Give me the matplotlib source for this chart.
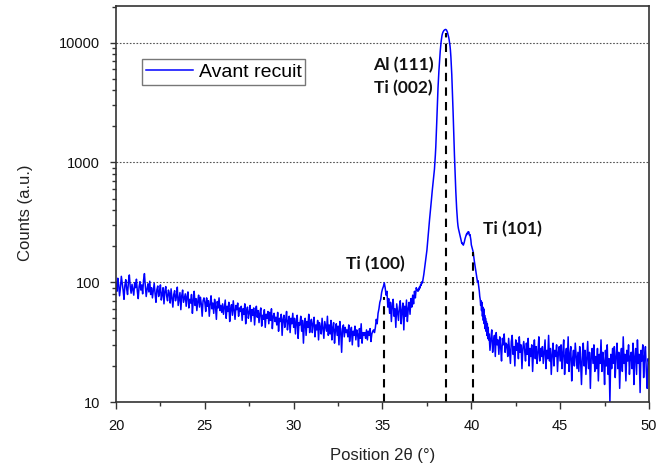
import matplotlib
matplotlib.use("Agg")
import matplotlib.pyplot as plt
import numpy as np
from matplotlib.ticker import LogLocator, FixedLocator, NullFormatter


# counts, one row per degree starting at row_start;
# background rows hold 20 readings (0.05 deg), the peak rows 40 (0.025 deg)
row_start = list(range(20, 51))

counts_rows = [
    [100, 84, 108, 95, 77, 90, 112, 98, 86, 72, 94, 105, 88, 79, 101, 115, 92, 81, 96, 87],   # 20
    [78, 99, 90, 106, 84, 73, 92, 101, 86, 95, 80, 104, 118, 93, 76, 88, 97, 83, 102, 79],    # 21
    [90, 74, 85, 98, 80, 68, 87, 93, 76, 83, 95, 71, 79, 90, 66, 84, 92, 77, 70, 86],         # 22
    [81, 67, 88, 74, 62, 79, 85, 70, 76, 91, 64, 73, 82, 59, 77, 86, 68, 74, 80, 63],         # 23
    [76, 83, 61, 72, 67, 79, 55, 71, 84, 64, 73, 58, 69, 78, 62, 75, 66, 52, 70, 74],         # 24
    [68, 57, 74, 63, 70, 52, 66, 77, 60, 67, 55, 72, 63, 49, 69, 61, 74, 58, 64, 56],         # 25
    [66, 54, 62, 71, 50, 63, 57, 68, 47, 60, 65, 53, 70, 58, 49, 64, 59, 67, 52, 61],         # 26
    [57, 63, 48, 60, 54, 66, 45, 58, 62, 50, 56, 64, 47, 59, 53, 61, 44, 57, 63, 51],         # 27
    [58, 46, 55, 61, 43, 53, 49, 59, 42, 54, 50, 57, 45, 56, 48, 60, 41, 52, 55, 47],         # 28
    [51, 44, 56, 39, 50, 47, 54, 36, 49, 53, 42, 48, 57, 40, 47, 52, 38, 50, 45, 55],         # 29
    [42, 50, 37, 47, 53, 34, 46, 44, 52, 39, 48, 31, 45, 50, 36, 47, 42, 54, 38, 46],         # 30
    [49, 38, 45, 51, 35, 44, 40, 48, 33, 46, 42, 37, 50, 41, 34, 47, 43, 39, 52, 36],         # 31
    [44, 37, 48, 33, 42, 46, 31, 40, 45, 36, 43, 30, 47, 39, 26, 41, 44, 35, 42, 38],         # 32
    [40, 35, 44, 32, 38, 42, 30, 39, 36, 43, 33, 40, 37, 29, 41, 34, 45, 31, 38, 36],         # 33
    [38, 34, 40, 33, 39, 36, 41, 32, 37, 39, 40, 38, 42, 49, 45, 55, 60, 68, 72, 82],         # 34
    [88, 92, 99, 90, 78, 84, 62, 73, 55, 68, 47, 64, 72, 52, 60, 42, 66, 56, 48, 62],         # 35
    [70, 45, 58, 67, 40, 63, 52, 71, 47, 60, 68, 54, 73, 62, 78, 66, 84, 74, 90, 86],         # 36
    # 37
    [84, 88, 86, 91, 89, 93, 96, 94, 98, 101, 99, 104, 108, 116, 124, 132, 140, 150, 160, 172,
     185, 205, 225, 250, 280, 305, 335, 365, 400, 440, 480, 530, 580, 630, 690, 740, 800, 880, 1000, 1150],
    # 38
    [1350, 1650, 2100, 2700, 3400, 4200, 5000, 5800, 6600, 7500, 8500, 9400, 10200, 10900,
     11500, 11900, 12200, 12400, 12600, 12700, 12800, 12850, 12900, 12850, 12750, 12550,
     12300, 11900, 11500, 11100, 10600, 10000, 9400, 8600, 7600, 6500, 5400, 4300, 3400, 2600],
    # 39
    [1950, 1500, 1150, 900, 720, 580, 480, 410, 360, 320, 295, 280, 270, 262, 252, 243, 234,
     224, 215, 210, 212, 207, 204, 209, 215, 224, 232, 238, 245, 252, 250, 258, 262, 258,
     264, 252, 246, 250, 238, 225],
    # 40
    [205, 198, 190, 185, 180, 168, 158, 148, 140, 132, 124, 118, 112, 106, 100, 103, 97, 90,
     84, 76, 72, 64, 70, 58, 68, 52, 62, 48, 60, 45, 53, 41, 50, 39, 47, 36, 45, 34, 42, 33],
    [37, 27, 34, 40, 26, 32, 36, 24, 38, 30, 33, 25, 35, 29, 22, 34, 30, 37, 26, 31],         # 41
    [30, 24, 34, 27, 21, 32, 36, 25, 29, 20, 33, 27, 31, 23, 35, 26, 30, 19, 28, 32],         # 42
    [27, 22, 31, 25, 34, 20, 28, 24, 30, 18, 27, 33, 23, 29, 21, 26, 35, 22, 28, 24],         # 43
    [29, 21, 26, 33, 19, 27, 23, 36, 22, 28, 17, 25, 31, 20, 27, 24, 30, 18, 26, 29],         # 44
    [22, 30, 19, 26, 33, 17, 24, 28, 21, 35, 18, 25, 29, 15, 23, 27, 20, 31, 24, 19],         # 45
    [26, 18, 29, 22, 14, 25, 31, 20, 27, 17, 23, 32, 19, 26, 13, 24, 28, 21, 30, 18],         # 46
    [24, 19, 28, 15, 25, 21, 33, 18, 26, 22, 14, 27, 20, 30, 17, 23, 10, 25, 19, 28],         # 47
    [21, 29, 16, 24, 31, 19, 26, 13, 23, 28, 18, 35, 21, 25, 15, 27, 22, 30, 17, 24],         # 48
    [26, 19, 31, 14, 24, 28, 17, 33, 21, 25, 12, 27, 22, 30, 16, 24, 29, 18, 13, 23],         # 49
    [21],                                                                                       # 50
]

# dashed reflection markers: 2theta and where the dash stops (counts)
peak_positions = [35.1, 38.57, 40.1]
peak_line_tops = [75, 12000, 180]

peak_labels = ["Ti (100)", "Al (111)", "Ti (002)", "Ti (101)"]
peak_label_x = [34.58, 36.15, 36.17, 42.29]
peak_label_y = [142, 6520, 4170, 278]

series_label = "Avant recuit"


x_parts, y_parts = [], []
for start, row in zip(row_start, counts_rows):
    x_parts.append(start + np.arange(len(row)) / len(row))
    y_parts.append(np.asarray(row, dtype=float))
two_theta = np.concatenate(x_parts)
counts = np.concatenate(y_parts)

plt.rcParams["font.family"] = ["Liberation Sans", "DejaVu Sans"]

fig = plt.figure(figsize=(6.58, 4.68), dpi=100)
ax = fig.add_axes([0.1763, 0.141, 0.81, 0.846])

ax.plot(two_theta, counts, color="#0000ff", linewidth=1.1, label=series_label)

for x0, top in zip(peak_positions, peak_line_tops):
    ax.plot([x0, x0], [10, top], color="black", linestyle=(0, (4, 3)), linewidth=1.5)

for text, x, y in zip(peak_labels, peak_label_x, peak_label_y):
    ax.text(x, y, text, ha="center", va="center", fontsize=12.5,
            fontweight="bold", family=["Lato", "DejaVu Sans"], color="#111111")

ax.set_yscale("log")
ax.set_xlim(20, 50)
ax.set_ylim(10, 20200)

ax.xaxis.set_major_locator(FixedLocator([20, 25, 30, 35, 40, 45, 50]))
ax.xaxis.set_minor_locator(FixedLocator([22.5, 27.5, 32.5, 37.5, 42.5, 47.5]))
ax.yaxis.set_major_locator(FixedLocator([10, 100, 1000, 10000]))
ax.yaxis.set_minor_locator(LogLocator(base=10, subs=np.arange(2, 10)))
ax.yaxis.set_minor_formatter(NullFormatter())
ax.set_yticklabels(["10", "100", "1000", "10000"])

ax.tick_params(which="major", direction="out", length=5, width=1.0, pad=7,
               labelsize=10.5, colors="#333333", labelcolor="#111111")
ax.tick_params(which="minor", direction="out", length=3.2, width=1.0, colors="#333333")
ax.tick_params(axis="y", which="major", length=4.5)

for side in ["left", "bottom", "right", "top"]:
    ax.spines[side].set_color("#333333")
    ax.spines[side].set_linewidth(1.2)

ax.grid(axis="y", which="major", color="#555555", linestyle=(0, (1.5, 1.5)), linewidth=0.8)

ax.set_xlabel("Position 2θ (°)", fontsize=12, color="#222222", labelpad=11)
ax.set_ylabel("Counts (a.u.)", fontsize=12, color="#222222")
ax.yaxis.set_label_coords(-0.155, 0.477)

leg = ax.legend(loc="upper left", bbox_to_anchor=(0.049, 0.866), fontsize=14,
                frameon=True, fancybox=False, framealpha=1.0, handlelength=2.4,
                borderpad=0.2, handletextpad=0.3, borderaxespad=0)
leg.get_frame().set_edgecolor("#777777")
leg.get_frame().set_linewidth(1.0)

fig.savefig("out.png", dpi=100)
